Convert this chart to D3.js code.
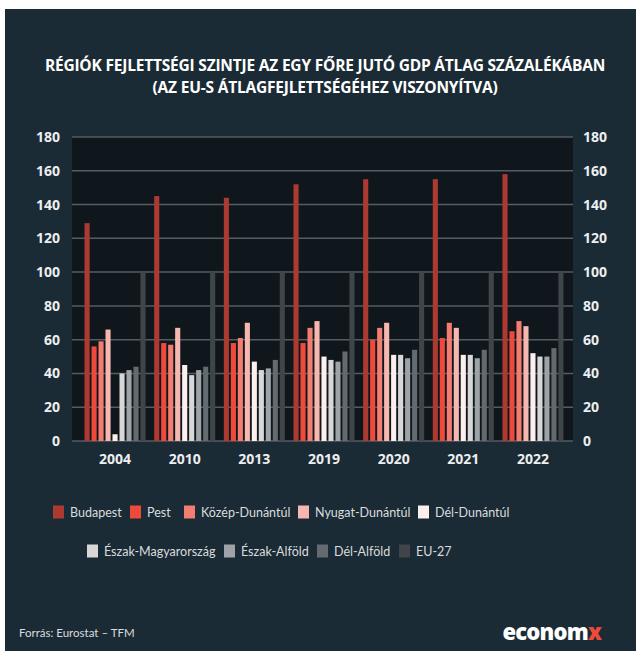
<!DOCTYPE html>
<html><head><meta charset="utf-8">
<script src="https://cdn.jsdelivr.net/npm/d3@7"></script>
<style>
html,body{margin:0;padding:0;background:#fff;}
svg{display:block;}
</style></head>
<body>
<script>
const years = ["2004","2010","2013","2019","2020","2021","2022"];
const seriesNames = ["Budapest","Pest","Közép-Dunántúl","Nyugat-Dunántúl","Dél-Dunántúl","Észak-Magyarország","Észak-Alföld","Dél-Alföld","EU-27"];
const budapest   = [129,145,144,152,155,155,158];
const pest       = [56,58,58,58,60,61,65];
const kozepDunantul = [59,57,61,67,67,70,71];
const nyugatDunantul = [66,67,70,71,70,67,68];
const delDunantul = [4,45,47,50,51,51,52];
const eszakMagyarorszag = [40,39,42,48,51,51,50];
const eszakAlfold = [42,42,43,47,49,49,50];
const delAlfold = [44,44,48,53,54,54,55];
const eu27 = [100,100,100,100,100,100,100];
const yTicks = [0,20,40,60,80,100,120,140,160,180];
const colors = ["#ad3a31","#ee4a3c","#f27d70","#f5b7b0","#fcefee","#d7d7d8","#9ea3a7","#646b70","#3f4549"];
const titleLines = ["RÉGIÓK FEJLETTSÉGI SZINTJE AZ EGY FŐRE JUTÓ GDP ÁTLAG SZÁZALÉKÁBAN","(AZ EU-S ÁTLAGFEJLETTSÉGÉHEZ VISZONYÍTVA)"];
const sourceText = "Forrás: Eurostat – TFM";

const values = [budapest,pest,kozepDunantul,nyugatDunantul,delDunantul,eszakMagyarorszag,eszakAlfold,delAlfold,eu27];

const W = 638, H = 651;
const svg = d3.select("body").append("svg").attr("width",W).attr("height",H);
svg.append("rect").attr("x",5).attr("y",9).attr("width",631).attr("height",642).attr("fill","#1b2b35");

const plotL = 72, plotR = 573, plotT = 137, plotB = 441;
const y = d3.scaleLinear().domain([0,180]).range([plotB,plotT]);
const x0 = d3.scaleBand().domain(years).range([72,576]).paddingInner(0.124).paddingOuter(0.18);
const x1 = d3.scaleBand().domain(seriesNames).range([0,x0.bandwidth()]).paddingInner(0.27).paddingOuter(0);

svg.append("rect").attr("x",plotL).attr("y",plotT).attr("width",plotR-plotL).attr("height",plotB-plotT).attr("fill","#0f171c");

// gridlines
svg.append("g").selectAll("line").data(yTicks).join("line")
  .attr("x1",plotL).attr("x2",plotR)
  .attr("y1",d=>y(d)).attr("y2",d=>y(d))
  .attr("stroke","#565c60").attr("stroke-width",1.5);

// axes labels
const axisFont = "'Open Sans', sans-serif";
const leftAxis = svg.append("g").attr("transform",`translate(${plotL},0)`)
  .call(d3.axisLeft(y).tickValues(yTicks).tickSize(0).tickPadding(12));
const rightAxis = svg.append("g").attr("transform",`translate(${plotR},0)`)
  .call(d3.axisRight(y).tickValues(yTicks).tickSize(0).tickPadding(10));
[leftAxis,rightAxis].forEach(g=>{
  g.select(".domain").remove();
  g.selectAll("text").attr("fill","#eceef0").attr("font-family",axisFont).attr("font-weight","bold").attr("font-size","14px");
});

// bars
const groups = svg.append("g").selectAll("g").data(years).join("g")
  .attr("transform",d=>`translate(${x0(d)},0)`);
groups.selectAll("rect").data((yr,i)=>seriesNames.map((s,j)=>({s,j,v:values[j][i]}))).join("rect")
  .attr("x",d=>x1(d.s)).attr("width",x1.bandwidth())
  .attr("y",d=>y(d.v)).attr("height",d=>y(0)-y(d.v))
  .attr("fill",d=>colors[d.j]);

// x axis labels
const xAxis = svg.append("g").attr("transform",`translate(0,${plotB})`)
  .call(d3.axisBottom(x0).tickSize(0).tickPadding(13));
xAxis.select(".domain").remove();
xAxis.selectAll("text").attr("fill","#eceef0").attr("font-family",axisFont).attr("font-weight","bold").attr("font-size","14px");

// title
svg.append("g").selectAll("text").data(titleLines).join("text")
  .attr("x",325).attr("y",(d,i)=>71+i*22)
  .attr("text-anchor","middle").attr("fill","#ffffff")
  .attr("font-family","'Open Sans', sans-serif").attr("font-weight","bold")
  .attr("font-size","15.5px").attr("letter-spacing","-0.2px")
  .text(d=>d);

// legend
const legendRows = [[0,1,2,3,4],[5,6,7,8]];
const legendX = [[53,130,184,298,418],[87,224,317,399]];
const legendY = [512,551];
const legendFont = "Lato, sans-serif";
legendRows.forEach((row,ri)=>{
  const g = svg.append("g");
  const items = g.selectAll("g").data(row).join("g")
    .attr("transform",(d,k)=>`translate(${legendX[ri][k]},${legendY[ri]})`);
  items.append("rect").attr("x",0).attr("y",-6.5).attr("width",11).attr("height",13).attr("fill",d=>colors[d]);
  items.append("text").attr("x",17).attr("y",4.5).attr("fill","#d9dcde")
    .attr("font-family",legendFont).attr("font-size","12.5px").text(d=>seriesNames[d]);
});

// footer
svg.append("text").attr("x",19).attr("y",637).attr("fill","#d9dcde")
  .attr("font-family",legendFont).attr("font-size","11.5px").text(sourceText);
const logo = svg.append("text").attr("x",601).attr("y",640).attr("text-anchor","end")
  .attr("font-family","'Open Sans', sans-serif").attr("font-weight","800").attr("font-size","22px")
  .attr("letter-spacing","-0.8px").attr("fill","#ffffff");
logo.append("tspan").text("econom");
logo.append("tspan").attr("fill","#ee4a3c").text("x");
</script>
</body></html>
